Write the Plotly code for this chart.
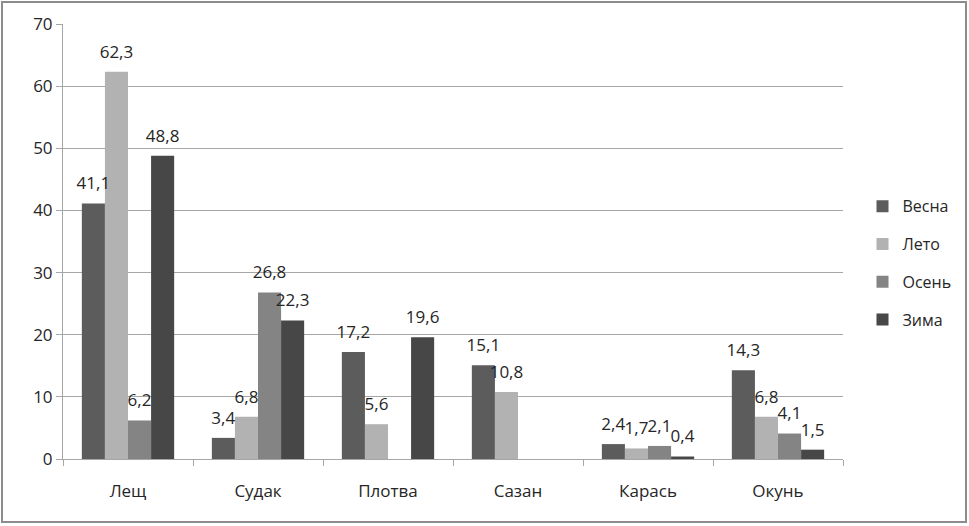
import plotly.graph_objects as go

categories = ["Лещ", "Судак", "Плотва", "Сазан", "Карась", "Окунь"]
series_names = ["Весна", "Лето", "Осень", "Зима"]
vesna = [41.1, 3.4, 17.2, 15.1, 2.4, 14.3]
leto = [62.3, 6.8, 5.6, 10.8, 1.7, 6.8]
osen = [6.2, 26.8, None, None, 2.1, 4.1]
zima = [48.8, 22.3, 19.6, None, 0.4, 1.5]
y_ticks = [0, 10, 20, 30, 40, 50, 60, 70]

colors = ["#5c5c5c", "#b2b2b2", "#848484", "#474747"]
values = [vesna, leto, osen, zima]

FONT = "Open Sans, Noto Sans, sans-serif"


def fmt(v):
    if v is None:
        return ""
    return ("<span style='font-size:17px'>" + f"{v:.1f}".replace(".", ",")
            + "</span><br> ")


fig = go.Figure()
# real bars
for name, vals, col in zip(series_names, values, colors):
    fig.add_trace(go.Bar(
        x=categories, y=vals, name=name, legendgroup=name, offsetgroup=name,
        marker=dict(color=col, line=dict(width=0)),
    ))
# transparent overlay bars carrying the value labels (drawn on top)
for name, vals in zip(series_names, values):
    fig.add_trace(go.Bar(
        x=categories, y=vals, name=name, legendgroup=name, offsetgroup=name,
        showlegend=False, hoverinfo="skip",
        marker=dict(color="rgba(0,0,0,0)", line=dict(width=0)),
        text=[fmt(v) for v in vals],
        textposition="outside", cliponaxis=False, constraintext="none",
        textfont=dict(size=7, color="#262626", family=FONT),
    ))

fig.update_layout(
    width=969, height=526,
    margin=dict(l=63, r=126, t=24, b=67),
    paper_bgcolor="white", plot_bgcolor="white",
    barmode="group", bargap=0.29, bargroupgap=0,
    font=dict(family=FONT, size=15, color="#262626"),
    legend=dict(x=1.025, y=0.45, xanchor="left", yanchor="middle",
                font=dict(size=16, color="#262626"),
                traceorder="grouped", tracegroupgap=14,
                itemwidth=30),
    showlegend=True,
)
fig.update_yaxes(range=[0, 70], tickvals=y_ticks, showgrid=True,
                 gridcolor="#a6a6a6", gridwidth=1,
                 showline=True, linecolor="#a6a6a6", ticks="outside",
                 ticklen=6, tickcolor="#a6a6a6", zeroline=False,
                 tickfont=dict(size=17, color="#262626"))
fig.update_xaxes(showline=True, linecolor="#a6a6a6", ticks="outside",
                 tickson="boundaries", ticklen=6, tickcolor="#a6a6a6",
                 ticklabelstandoff=17,
                 tickfont=dict(size=17, color="#262626"))
fig.add_shape(type="rect", xref="paper", yref="paper",
              x0=-61/780, x1=(969-63-3)/780, y0=-63/435, y1=(435+22)/435,
              line=dict(color="#8c8c8c", width=2))

fig.write_html("out.html", config={"displayModeBar": False},
               post_script="document.body.style.margin='0px';")
